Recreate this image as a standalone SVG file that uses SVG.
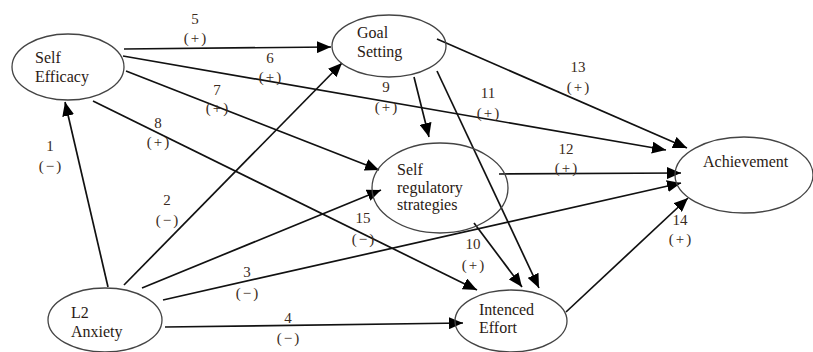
<svg xmlns="http://www.w3.org/2000/svg" width="813" height="352" viewBox="0 0 813 352">
<style>
.node ellipse{fill:none;stroke:#444;stroke-width:1.3}
.node text{font-family:"Liberation Serif","Times New Roman",serif;font-size:16px;fill:#2a1a14}
.edges line{stroke:#111;stroke-width:1.7;fill:none}
.lbl{font-family:"Liberation Serif","Times New Roman",serif;font-size:15px;fill:#3a2a20;text-anchor:middle}
.sg{letter-spacing:2px}
</style>
<defs>
<marker id="arr" viewBox="0 0 14 12" refX="14" refY="6" markerWidth="14" markerHeight="12" markerUnits="userSpaceOnUse" orient="auto">
<path d="M0,0 L14,6 L0,12 Z" fill="#000"/>
</marker>
</defs>
<rect width="813" height="352" fill="#fff"/>
<g class="edges">
<line x1="124" y1="49" x2="331" y2="47" marker-end="url(#arr)"/>
<line x1="123" y1="56" x2="666" y2="150" marker-end="url(#arr)"/>
<line x1="126" y1="71" x2="379" y2="170" marker-end="url(#arr)"/>
<line x1="93" y1="101" x2="477" y2="290" marker-end="url(#arr)"/>
<line x1="108" y1="287" x2="65" y2="102" marker-end="url(#arr)"/>
<line x1="124" y1="285" x2="342" y2="63" marker-end="url(#arr)"/>
<line x1="142" y1="288" x2="381" y2="190" marker-end="url(#arr)"/>
<line x1="163" y1="300" x2="681" y2="183" marker-end="url(#arr)"/>
<line x1="165" y1="327" x2="463" y2="323" marker-end="url(#arr)"/>
<line x1="414" y1="77" x2="429" y2="137" marker-end="url(#arr)"/>
<line x1="437" y1="71" x2="539" y2="288" marker-end="url(#arr)"/>
<line x1="437" y1="39" x2="687" y2="148" marker-end="url(#arr)"/>
<line x1="499" y1="174" x2="681" y2="173" marker-end="url(#arr)"/>
<line x1="474" y1="223" x2="522" y2="287" marker-end="url(#arr)"/>
<line x1="566" y1="312" x2="688" y2="198" marker-end="url(#arr)"/>
</g>
<g id="labels">
<text class="lbl" x="195" y="24">5</text><text class="lbl sg" x="196" y="43">(+)</text>
<text class="lbl" x="270" y="63">6</text><text class="lbl sg" x="271" y="82">(+)</text>
<text class="lbl" x="217" y="95">7</text><text class="lbl sg" x="218" y="113">(+)</text>
<text class="lbl" x="158" y="128">8</text><text class="lbl sg" x="159" y="147">(+)</text>
<text class="lbl" x="50" y="151">1</text><text class="lbl sg" x="51" y="171">(−)</text>
<text class="lbl" x="167" y="205">2</text><text class="lbl sg" x="168" y="225">(−)</text>
<text class="lbl" x="386" y="92">9</text><text class="lbl sg" x="387" y="112">(+)</text>
<text class="lbl" x="488" y="98">11</text><text class="lbl sg" x="489" y="118">(+)</text>
<text class="lbl" x="578" y="72">13</text><text class="lbl sg" x="579" y="92">(+)</text>
<text class="lbl" x="566" y="154">12</text><text class="lbl sg" x="567" y="173">(+)</text>
<text class="lbl" x="363" y="223">15</text><text class="lbl sg" x="364" y="244">(−)</text>
<text class="lbl" x="473" y="249">10</text><text class="lbl sg" x="474" y="270">(+)</text>
<text class="lbl" x="247" y="277">3</text><text class="lbl sg" x="248" y="298">(−)</text>
<text class="lbl" x="288" y="323">4</text><text class="lbl sg" x="289" y="343">(−)</text>
<text class="lbl" x="680" y="225">14</text><text class="lbl sg" x="681" y="244">(+)</text>
</g>
<g id="self-efficacy" class="node">
<ellipse cx="68" cy="67" rx="56" ry="33"/>
<text x="35" y="63">Self</text><text x="35" y="82">Efficacy</text>
</g>
<g id="goal-setting" class="node">
<ellipse cx="389" cy="46" rx="57" ry="31"/>
<text x="357" y="38">Goal</text><text x="357" y="57">Setting</text>
</g>
<g id="achievement" class="node">
<ellipse cx="744" cy="175" rx="69" ry="38"/>
<text x="703" y="167">Achievement</text>
</g>
<g id="self-regulatory" class="node">
<ellipse cx="440" cy="188" rx="68" ry="45"/>
<text x="397" y="175">Self</text><text x="397" y="193">regulatory</text><text x="397" y="210">strategies</text>
</g>
<g id="intended-effort" class="node">
<ellipse cx="511" cy="321" rx="56" ry="31"/>
<text x="479" y="315">Intenced</text><text x="479" y="333">Effort</text>
</g>
<g id="l2-anxiety" class="node">
<ellipse cx="105" cy="320" rx="57" ry="32"/>
<text x="71" y="318">L2</text><text x="71" y="337">Anxiety</text>
</g>
</svg>
